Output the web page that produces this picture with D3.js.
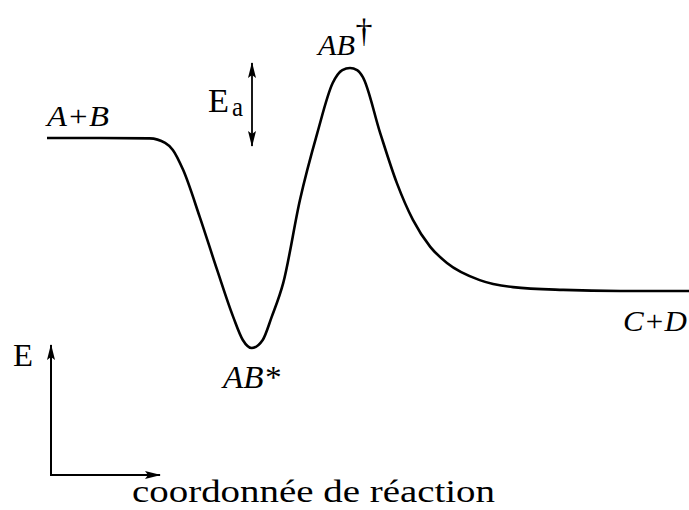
<!DOCTYPE html>
<html><head><meta charset="utf-8">
<script src="https://cdn.jsdelivr.net/npm/d3@7"></script>
<style>html,body{margin:0;padding:0;background:#fff}svg{display:block}
text{font-family:"Liberation Serif",LiberationSerif,Tinos,"Nimbus Roman","Nimbus Roman No9 L",FreeSerif,"Times New Roman",Times,"DejaVu Serif",DejaVuSerif,"Noto Serif",serif}</style>
</head><body>
<script>
// Reaction coordinate (0-100) and energy (arbitrary units) of the profile
const coord  = [0, 8.3, 16.0, 18.4, 19.6, 21.2, 23.8, 26.5, 29.0, 30.5, 31.9, 33.6, 35.0, 36.8, 39.4, 42.1, 44.5, 46.0, 47.2, 48.3, 49.2, 51.9, 54.5, 57.0, 59.7, 62.3, 67.4, 72.6, 80.4, 89.3, 100];
const energy = [60, 60, 59.9, 58.6, 56.6, 50.9, 37.4, 22.3, 8.9, 2.3, 0, 2.3, 8.9, 18.6, 42.3, 61.4, 75.7, 79.4, 80, 79.4, 77.4, 61.4, 47.1, 36.6, 28.9, 24.3, 19.4, 17.4, 16.6, 16.3, 16.3];
const levels = {reactants: 60, intermediate: 0, transition: 80, products: 16.3};
const labels = ["A+B", "AB*", "AB", "†", "C+D", "E", "a", "E", "coordonnée de réaction"];

const W = 689, H = 510;
const svg = d3.select("body").append("svg").attr("width", W).attr("height", H);
const x = d3.scaleLinear().domain([0, 100]).range([47, 689]);
const y = d3.scaleLinear().domain([0, 80]).range([348, 68]);

const defs = svg.append("defs");
defs.append("marker").attr("id", "ah").attr("viewBox", "0 0 16 10")
  .attr("refX", 15).attr("refY", 5).attr("markerWidth", 16).attr("markerHeight", 10)
  .attr("markerUnits", "userSpaceOnUse").attr("orient", "auto-start-reverse")
  .append("path").attr("d", "M0,1 L16,5 L0,9 L3,5 Z").attr("fill", "#000");

// energy profile
const pts = coord.map((c, i) => [c, energy[i]]);
svg.append("path").datum(pts)
  .attr("d", d3.line().x(d => x(d[0])).y(d => y(d[1])).curve(d3.curveMonotoneX))
  .attr("fill", "none").attr("stroke", "#000").attr("stroke-width", 2.6);

function txt(s, px, py, size, opts = {}) {
  const t = svg.append("text").attr("x", px).attr("y", py).text(s)
    .attr("font-size", size).attr("fill", "#000");
  if (opts.italic) t.attr("font-style", "italic");
  if (opts.len) t.attr("textLength", opts.len).attr("lengthAdjust", "spacingAndGlyphs");
  if (opts.anchor) t.attr("text-anchor", opts.anchor);
  return t;
}

// labels
txt(labels[0], x(0), y(levels.reactants) - 12, 29, {italic: true, len: 62});
txt(labels[1], 223, y(levels.intermediate) + 40, 31, {italic: true, len: 57});
txt(labels[2], 318, 55, 30, {italic: true, len: 37});
txt(labels[3], 364, 42, 34, {anchor: "middle"}).attr("font-weight", 300);
txt(labels[4], 623, y(levels.products) + 40, 29, {italic: true, len: 64});

// Ea arrow
const ax = 252;
svg.append("line").attr("x1", ax).attr("x2", ax)
  .attr("y1", y(levels.transition) - 5).attr("y2", y(levels.reactants) + 8)
  .attr("stroke", "#000").attr("stroke-width", 1.8)
  .attr("marker-start", "url(#ah)").attr("marker-end", "url(#ah)");
txt(labels[5], 208, 112, 34, {len: 21});
txt(labels[6], 232, 116, 27, {len: 11});

// axes arrows (schematic)
const ox = 51, oy = 475;
svg.append("line").attr("x1", ox).attr("y1", oy).attr("x2", ox).attr("y2", 345)
  .attr("stroke", "#000").attr("stroke-width", 2).attr("marker-end", "url(#ah)");
svg.append("line").attr("x1", ox - 1).attr("y1", oy).attr("x2", 160).attr("y2", oy)
  .attr("stroke", "#000").attr("stroke-width", 2).attr("marker-end", "url(#ah)");
txt(labels[7], 13, 366, 31, {len: 20});
txt(labels[8], 132, 502, 32, {len: 363});
</script>
</body></html>
